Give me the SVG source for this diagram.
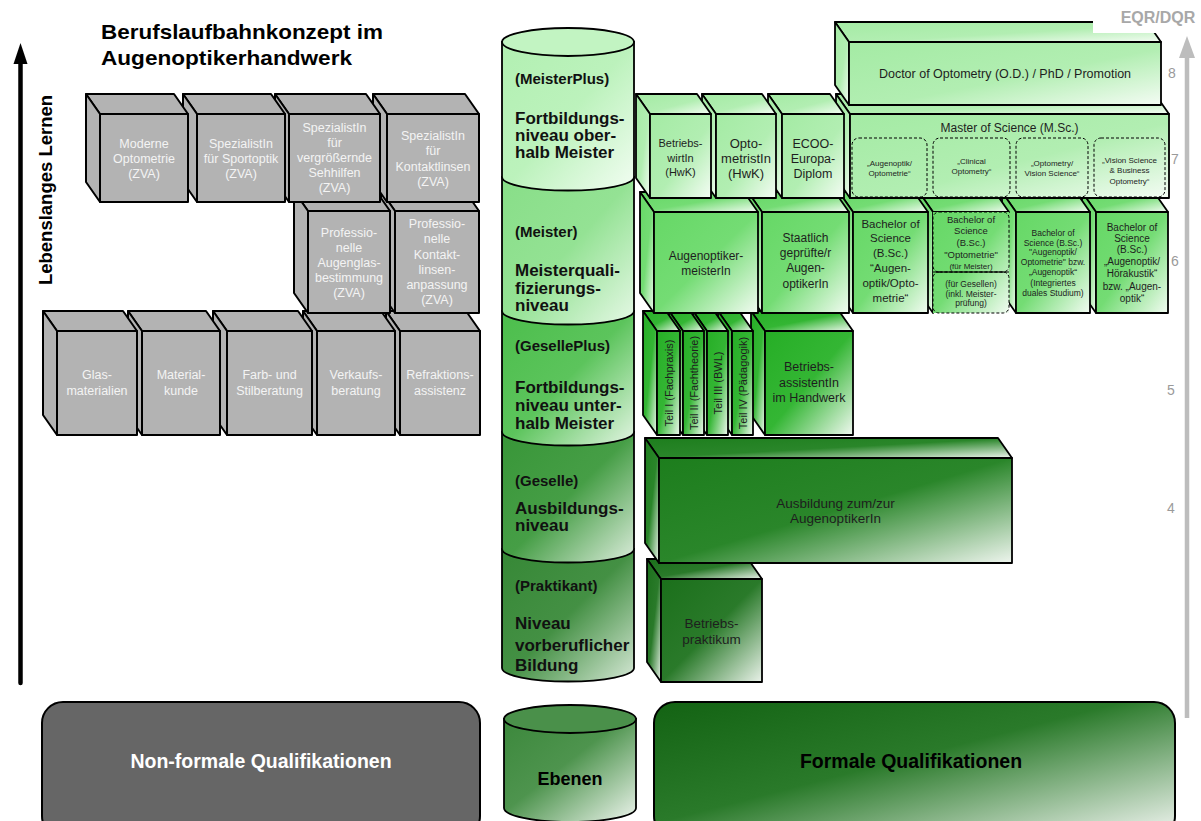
<svg xmlns="http://www.w3.org/2000/svg" width="1201" height="821" viewBox="0 0 1201 821">
  <defs>
    <linearGradient id="g8" x1="0" y1="0" x2="1" y2="1"><stop offset="0" stop-color="#a4eba4"/><stop offset="0.55" stop-color="#b2eeb2"/><stop offset="1" stop-color="#f4fcf4"/></linearGradient>
    <linearGradient id="g6" x1="0" y1="0" x2="1" y2="1"><stop offset="0" stop-color="#66d866"/><stop offset="0.5" stop-color="#74dc74"/><stop offset="1" stop-color="#f2fbf2"/></linearGradient>
    <linearGradient id="g5" x1="0" y1="0" x2="1" y2="1"><stop offset="0" stop-color="#26ae26"/><stop offset="0.5" stop-color="#34b634"/><stop offset="1" stop-color="#f0f8f0"/></linearGradient>
    <linearGradient id="g4" x1="0" y1="0" x2="1" y2="1"><stop offset="0" stop-color="#1d7e1d"/><stop offset="0.5" stop-color="#2a862a"/><stop offset="1" stop-color="#eef5ee"/></linearGradient>
    <linearGradient id="g3" x1="0" y1="0" x2="1" y2="1"><stop offset="0" stop-color="#1b701b"/><stop offset="0.5" stop-color="#2a7a2a"/><stop offset="1" stop-color="#eaf2ea"/></linearGradient>
    <linearGradient id="c7" x1="0" y1="0" x2="1" y2="1"><stop offset="0" stop-color="#b2f0b2"/><stop offset="0.5" stop-color="#bcf2bc"/><stop offset="1" stop-color="#f2fdf2"/></linearGradient>
    <linearGradient id="c6" x1="0" y1="0" x2="1" y2="1"><stop offset="0" stop-color="#88de88"/><stop offset="0.5" stop-color="#94e294"/><stop offset="1" stop-color="#e6f8e6"/></linearGradient>
    <linearGradient id="c5" x1="0" y1="0" x2="1" y2="1"><stop offset="0" stop-color="#4cbe4c"/><stop offset="0.5" stop-color="#5cc45c"/><stop offset="1" stop-color="#e4f5e4"/></linearGradient>
    <linearGradient id="c4" x1="0" y1="0" x2="1" y2="1"><stop offset="0" stop-color="#389638"/><stop offset="0.5" stop-color="#469e46"/><stop offset="1" stop-color="#dcecdc"/></linearGradient>
    <linearGradient id="c3" x1="0" y1="0" x2="1" y2="1"><stop offset="0" stop-color="#368836"/><stop offset="0.5" stop-color="#449044"/><stop offset="1" stop-color="#d6e8d6"/></linearGradient>
    <linearGradient id="fq" x1="0" y1="0" x2="1" y2="1"><stop offset="0" stop-color="#136313"/><stop offset="0.45" stop-color="#2a7a2a"/><stop offset="1" stop-color="#f4f7f4"/></linearGradient>
    <linearGradient id="eb" x1="0" y1="0" x2="1" y2="1"><stop offset="0" stop-color="#3c883c"/><stop offset="0.45" stop-color="#4e944e"/><stop offset="1" stop-color="#eef5ee"/></linearGradient>
    <style>
      .f { font-family: "Liberation Sans", Arial, Helvetica, sans-serif; }
      .gray { fill: #b3b3b3; stroke: #000; stroke-width: 2; stroke-linejoin: round; }
      .gt { font-size: 12.5px; fill: #f4f4f4; text-anchor: middle; }
      .bx { stroke: #000; stroke-width: 1.8; stroke-linejoin: round; }
      .t8 { fill: url(#g8); }
      .t6 { fill: url(#g6); }
      .t5 { fill: url(#g5); }
      .t4 { fill: url(#g4); }
      .t3 { fill: url(#g3); }
      .lbl { text-anchor: middle; fill: #1e1e1e; }
      .cyl { stroke: #000; stroke-width: 1.8; }
      .cyt { font-weight: bold; font-size: 17px; fill: #111; }
      .cyp { font-weight: bold; font-size: 15px; fill: #111; }
      .dash { fill: none; stroke: #000; stroke-width: 1; stroke-dasharray: 3 2; }
      .num { font-size: 14px; fill: #9a9a9a; text-anchor: middle; }
    </style>
  </defs>

  <rect width="1201" height="821" fill="#fff"/>

  <!-- title -->
  <g id="title" class="f" font-weight="bold" font-size="21px" fill="#000">
    <text x="101" y="39" textLength="282" lengthAdjust="spacingAndGlyphs">Berufslaufbahnkonzept im</text>
    <text x="101" y="65" textLength="251" lengthAdjust="spacingAndGlyphs">Augenoptikerhandwerk</text>
  </g>

  <!-- axes -->
  <g id="connectors">
    <line x1="20.5" y1="60" x2="20.5" y2="683" stroke="#000" stroke-width="4.5" stroke-linecap="round"/>
    <polygon points="20.5,43 13.5,64 27.5,64" fill="#000"/>
    <line x1="1187" y1="56" x2="1187" y2="718" stroke="#bdbdbd" stroke-width="4.5"/>
    <polygon points="1187,36 1179,58 1195,58" fill="#bdbdbd"/>
  </g>
  <text id="axis-left" class="f" font-weight="bold" font-size="18.5px" text-anchor="middle" transform="translate(45,190) rotate(-90)" y="7">Lebenslanges Lernen</text>

  <!-- non-formal qualifications (grey) -->
  <g id="nonformal" class="f">
    <!-- row 3 -->
    <g id="refraktion"><polygon class="gray" points="400,331 386,311 466,311 480,331"/><polygon class="gray" points="400,331 386,311 386,415 400,435"/><rect class="gray" x="400" y="331" width="80" height="104"/>
      <text class="gt" x="440" y="379">Refraktions-</text><text class="gt" x="440" y="395">assistenz</text></g>
    <g id="verkauf"><polygon class="gray" points="317,331 303,311 381,311 395,331"/><polygon class="gray" points="317,331 303,311 303,415 317,435"/><rect class="gray" x="317" y="331" width="78" height="104"/>
      <text class="gt" x="356" y="379">Verkaufs-</text><text class="gt" x="356" y="395">beratung</text></g>
    <g id="farb"><polygon class="gray" points="227,331 213,311 298,311 312,331"/><polygon class="gray" points="227,331 213,311 213,415 227,435"/><rect class="gray" x="227" y="331" width="85" height="104"/>
      <text class="gt" x="269.5" y="379">Farb- und</text><text class="gt" x="269.5" y="395">Stilberatung</text></g>
    <g id="material"><polygon class="gray" points="142,331 128,311 206,311 220,331"/><polygon class="gray" points="142,331 128,311 128,415 142,435"/><rect class="gray" x="142" y="331" width="78" height="104"/>
      <text class="gt" x="181" y="379">Material-</text><text class="gt" x="181" y="395">kunde</text></g>
    <g id="glas"><polygon class="gray" points="57,331 43,311 123,311 137,331"/><polygon class="gray" points="57,331 43,311 43,415 57,435"/><rect class="gray" x="57" y="331" width="80" height="104"/>
      <text class="gt" x="97" y="379">Glas-</text><text class="gt" x="97" y="395">materialien</text></g>
    <!-- row 2 -->
    <g id="kontaktlinsenanpassung"><polygon class="gray" points="395,211 381,191 465,191 479,211"/><polygon class="gray" points="395,211 381,191 381,293 395,313"/><rect class="gray" x="395" y="211" width="84" height="102"/>
      <text class="gt" x="437" y="228">Professio-</text><text class="gt" x="437" y="243">nelle</text><text class="gt" x="437" y="258.5">Kontakt-</text><text class="gt" x="437" y="274">linsen-</text><text class="gt" x="437" y="289">anpassung</text><text class="gt" x="437" y="304">(ZVA)</text></g>
    <g id="augenglas"><polygon class="gray" points="308,211 294,191 376,191 390,211"/><polygon class="gray" points="308,211 294,191 294,293 308,313"/><rect class="gray" x="308" y="211" width="82" height="102"/>
      <text class="gt" x="349" y="237">Professio-</text><text class="gt" x="349" y="252">nelle</text><text class="gt" x="349" y="267">Augenglas-</text><text class="gt" x="349" y="282">bestimmung</text><text class="gt" x="349" y="297">(ZVA)</text></g>
    <!-- row 1 -->
    <g id="kontaktlinsen"><polygon class="gray" points="387,114 373,94 465,94 479,114"/><polygon class="gray" points="387,114 373,94 373,182 387,202"/><rect class="gray" x="387" y="114" width="92" height="88"/>
      <text class="gt" x="433" y="139.5">SpezialistIn</text><text class="gt" x="433" y="155">für</text><text class="gt" x="433" y="170.5">Kontaktlinsen</text><text class="gt" x="433" y="186">(ZVA)</text></g>
    <g id="sehhilfen"><polygon class="gray" points="289,114 275,94 366,94 380,114"/><polygon class="gray" points="289,114 275,94 275,182 289,202"/><rect class="gray" x="289" y="114" width="91" height="88"/>
      <text class="gt" x="334.5" y="132">SpezialistIn</text><text class="gt" x="334.5" y="147">für</text><text class="gt" x="334.5" y="162">vergrößernde</text><text class="gt" x="334.5" y="177">Sehhilfen</text><text class="gt" x="334.5" y="192">(ZVA)</text></g>
    <g id="sportoptik"><polygon class="gray" points="197,114 183,94 271,94 285,114"/><polygon class="gray" points="197,114 183,94 183,182 197,202"/><rect class="gray" x="197" y="114" width="88" height="88"/>
      <text class="gt" x="241" y="147.5">SpezialistIn</text><text class="gt" x="241" y="162.5">für Sportoptik</text><text class="gt" x="241" y="177.5">(ZVA)</text></g>
    <g id="optometrie"><polygon class="gray" points="100,114 86,94 174,94 188,114"/><polygon class="gray" points="100,114 86,94 86,182 100,202"/><rect class="gray" x="100" y="114" width="88" height="88"/>
      <text class="gt" x="144" y="147.5">Moderne</text><text class="gt" x="144" y="162.5">Optometrie</text><text class="gt" x="144" y="177.5">(ZVA)</text></g>
  </g>

  <!-- levels column -->
  <g id="levels" class="f">
    <g id="lvl-praktikant">
      <path class="cyl" fill="url(#c3)" d="M502,549 V668 A66,13.5 0 0 0 634,668 V549 Z"/>
      <text class="cyp" x="515" y="591">(Praktikant)</text>
      <text class="cyt" x="515" y="629">Niveau</text><text class="cyt" x="515" y="651">vorberuflicher</text><text class="cyt" x="515" y="671">Bildung</text>
    </g>
    <g id="lvl-geselle">
      <path class="cyl" fill="url(#c4)" d="M502,432 V549 A66,13.5 0 0 0 634,549 V432 Z"/>
      <text class="cyp" x="515" y="486">(Geselle)</text>
      <text class="cyt" x="515" y="514">Ausbildungs-</text><text class="cyt" x="515" y="531">niveau</text>
    </g>
    <g id="lvl-geselleplus">
      <path class="cyl" fill="url(#c5)" d="M502,311 V432 A66,13.5 0 0 0 634,432 V311 Z"/>
      <text class="cyp" x="515" y="351">(GesellePlus)</text>
      <text class="cyt" x="515" y="393">Fortbildungs-</text><text class="cyt" x="515" y="411">niveau unter-</text><text class="cyt" x="515" y="429">halb Meister</text>
    </g>
    <g id="lvl-meister">
      <path class="cyl" fill="url(#c6)" d="M502,177 V311 A66,13.5 0 0 0 634,311 V177 Z"/>
      <text class="cyp" x="515" y="237">(Meister)</text>
      <text class="cyt" x="515" y="276">Meisterquali-</text><text class="cyt" x="515" y="294">fizierungs-</text><text class="cyt" x="515" y="311">niveau</text>
    </g>
    <g id="lvl-meisterplus">
      <path class="cyl" fill="url(#c7)" d="M502,42 V177 A66,13.5 0 0 0 634,177 V42 Z"/>
      <ellipse class="cyl" cx="568" cy="42" rx="66" ry="14" fill="#c2f4c2"/>
      <text class="cyp" x="515" y="84">(MeisterPlus)</text>
      <text class="cyt" x="515" y="124">Fortbildungs-</text><text class="cyt" x="515" y="141">niveau ober-</text><text class="cyt" x="515" y="158">halb Meister</text>
    </g>
  </g>

  <!-- formal qualifications (green) -->
  <g id="formal" class="f">
    <!-- level 3 -->
    <g id="praktikum"><polygon class="bx t3" points="661,579 647,559 748,559 762,579"/><polygon class="bx t3" points="661,579 647,559 647,662 661,682"/><rect class="bx t3" x="661" y="579" width="101" height="103"/>
      <text class="lbl" font-size="13.5px" x="711.5" y="628">Betriebs-</text><text class="lbl" font-size="13.5px" x="711.5" y="644">praktikum</text></g>
    <!-- level 4 -->
    <g id="ausbildung"><polygon class="bx t4" points="659,458 645,438 998,438 1012,458"/><polygon class="bx t4" points="659,458 645,438 645,543 659,563"/><rect class="bx t4" x="659" y="458" width="353" height="105"/>
      <text class="lbl" font-size="13.5px" fill="#333" x="835.5" y="508">Ausbildung zum/zur</text><text class="lbl" font-size="13.5px" x="835.5" y="523">AugenoptikerIn</text></g>
    <!-- level 5 -->
    <g id="betriebsassistent"><polygon class="bx t5" points="765,331 751,311 839,311 853,331"/><polygon class="bx t5" points="765,331 751,311 751,415 765,435"/><rect class="bx t5" x="765" y="331" width="88" height="104"/>
      <text class="lbl" font-size="12.5px" x="809" y="371">Betriebs-</text><text class="lbl" font-size="12.5px" x="809" y="387">assistentIn</text><text class="lbl" font-size="12.5px" x="809" y="402">im Handwerk</text></g>
    <g id="teil4"><polygon class="bx t5" points="732,331 718,311 739,311 753,331"/><polygon class="bx t5" points="732,331 718,311 718,415 732,435"/><rect class="bx t5" x="732" y="331" width="21" height="104"/>
      <text class="lbl" font-size="11px" transform="translate(742.5,383) rotate(-90)" y="4">Teil IV (Pädagogik)</text></g>
    <g id="teil3"><polygon class="bx t5" points="707,331 693,311 714,311 728,331"/><polygon class="bx t5" points="707,331 693,311 693,415 707,435"/><rect class="bx t5" x="707" y="331" width="21" height="104"/>
      <text class="lbl" font-size="11px" transform="translate(717.5,383) rotate(-90)" y="4">Teil III (BWL)</text></g>
    <g id="teil2"><polygon class="bx t5" points="683,331 669,311 690,311 704,331"/><polygon class="bx t5" points="683,331 669,311 669,415 683,435"/><rect class="bx t5" x="683" y="331" width="21" height="104"/>
      <text class="lbl" font-size="11px" transform="translate(693.5,383) rotate(-90)" y="4">Teil II (Fachtheorie)</text></g>
    <g id="teil1"><polygon class="bx t5" points="657,331 643,311 666,311 680,331"/><polygon class="bx t5" points="657,331 643,311 643,415 657,435"/><rect class="bx t5" x="657" y="331" width="23" height="104"/>
      <text class="lbl" font-size="11px" transform="translate(668.5,383) rotate(-90)" y="4">Teil I (Fachpraxis)</text></g>
    <!-- level 6 -->
    <g id="bsc-hoerakustik"><polygon class="bx t6" points="1096,212 1082,192 1154,192 1168,212"/><polygon class="bx t6" points="1096,212 1082,192 1082,293 1096,313"/><rect class="bx t6" x="1096" y="212" width="72" height="101"/>
      <g class="lbl" font-size="10px"><text x="1132" y="230.5">Bachelor of</text><text x="1132" y="241.5">Science</text><text x="1132" y="253">(B.Sc.)</text><text x="1132" y="265">„Augenoptik/</text><text x="1132" y="277">Hörakustik“</text><text x="1132" y="289.5">bzw. „Augen-</text><text x="1132" y="301.5">optik“</text></g></g>
    <g id="bsc-dual"><polygon class="bx t6" points="1016,212 1002,192 1076,192 1090,212"/><polygon class="bx t6" points="1016,212 1002,192 1002,293 1016,313"/><rect class="bx t6" x="1016" y="212" width="74" height="101"/>
      <g class="lbl" font-size="8.5px"><text x="1053" y="236">Bachelor of</text><text x="1053" y="245.5">Science (B.Sc.)</text><text x="1053" y="255">"Augenoptik/</text><text x="1053" y="265">Optometrie" bzw.</text><text x="1053" y="275">„Augenoptik“</text><text x="1053" y="286">(Integriertes</text><text x="1053" y="296">duales Studium)</text></g></g>
    <g id="bsc-optometrie"><polygon class="bx t6" points="933,212 919,192 995,192 1009,212"/><polygon class="bx t6" points="933,212 919,192 919,293 933,313"/><rect class="t6" x="933" y="212" width="76" height="101"/>
      <rect class="dash" x="933" y="212" width="76" height="60" rx="6" stroke-dasharray="2 1.5"/><rect class="dash" x="933" y="272" width="76" height="41" rx="6" stroke-dasharray="2 1.5"/>
      <line x1="933" y1="272" x2="1009" y2="272" stroke="#000" stroke-width="1.2"/>
      <g class="lbl" font-size="9.5px"><text x="971" y="222.5">Bachelor of</text><text x="971" y="233.5">Science</text><text x="971" y="245.5">(B.Sc.)</text><text x="971" y="257.5">"Optometrie"</text></g>
      <g class="lbl" font-size="8px"><text x="971" y="268.5">(für Meister)</text></g>
      <g class="lbl" font-size="8.5px"><text x="971" y="287">(für Gesellen)</text><text x="971" y="297">(inkl. Meister-</text><text x="971" y="306">prüfung)</text></g></g>
    <g id="bsc-augenoptik"><polygon class="bx t6" points="853,212 839,192 914,192 928,212"/><polygon class="bx t6" points="853,212 839,192 839,293 853,313"/><rect class="bx t6" x="853" y="212" width="75" height="101"/>
      <g class="lbl" font-size="11.5px"><text x="890.5" y="228">Bachelor of</text><text x="890.5" y="242">Science</text><text x="890.5" y="257">(B.Sc.)</text><text x="890.5" y="272">“Augen-</text><text x="890.5" y="287">optik/Opto-</text><text x="890.5" y="302">metrie“</text></g></g>
    <g id="staatlich"><polygon class="bx t6" points="762,212 748,192 835,192 849,212"/><polygon class="bx t6" points="762,212 748,192 748,293 762,313"/><rect class="bx t6" x="762" y="212" width="87" height="101"/>
      <g class="lbl" font-size="12px"><text x="805.5" y="242">Staatlich</text><text x="805.5" y="257">geprüfte/r</text><text x="805.5" y="272">Augen-</text><text x="805.5" y="288">optikerIn</text></g></g>
    <g id="meisterin"><polygon class="bx t6" points="654,212 640,192 744,192 758,212"/><polygon class="bx t6" points="654,212 640,192 640,293 654,313"/><rect class="bx t6" x="654" y="212" width="104" height="101"/>
      <g class="lbl" font-size="12px"><text x="706" y="259.5">Augenoptiker-</text><text x="706" y="274.5">meisterIn</text></g></g>
    <!-- level 7 -->
    <g id="master"><polygon class="bx t8" points="850,114 836,94 1155,94 1169,114"/><polygon class="bx t8" points="850,114 836,94 836,178 850,198"/><rect class="bx t8" x="850" y="114" width="319" height="84"/>
      <text class="lbl" font-size="12px" x="1009.5" y="132">Master of Science (M.Sc.)</text>
      <rect class="dash" x="852" y="138" width="75" height="59" rx="7"/>
      <rect class="dash" x="933" y="138" width="77" height="59" rx="7"/>
      <rect class="dash" x="1016" y="138" width="72" height="59" rx="7"/>
      <rect class="dash" x="1094" y="138" width="71" height="59" rx="7"/>
      <g class="lbl" font-size="8px">
        <text x="889.5" y="166">„Augenoptik/</text><text x="889.5" y="176">Optometrie“</text>
        <text x="971.5" y="164">„Clinical</text><text x="971.5" y="174">Optometry“</text>
        <text x="1052" y="166">„Optometry/</text><text x="1052" y="176">Vision Science“</text>
        <text x="1129.5" y="163">„Vision Science</text><text x="1129.5" y="173">&amp; Business</text><text x="1129.5" y="184">Optometry“</text>
      </g></g>
    <g id="ecoo"><polygon class="bx t8" points="782,114 768,94 830,94 844,114"/><polygon class="bx t8" points="782,114 768,94 768,178 782,198"/><rect class="bx t8" x="782" y="114" width="62" height="84"/>
      <g class="lbl" font-size="12.5px"><text x="813" y="147.5">ECOO-</text><text x="813" y="162.5">Europa-</text><text x="813" y="177.5">Diplom</text></g></g>
    <g id="optometristin"><polygon class="bx t8" points="716,114 702,94 762,94 776,114"/><polygon class="bx t8" points="716,114 702,94 702,178 716,198"/><rect class="bx t8" x="716" y="114" width="60" height="84"/>
      <g class="lbl" font-size="13px"><text x="746" y="147.5">Opto-</text><text x="746" y="162.5">metristIn</text><text x="746" y="177.5">(HwK)</text></g></g>
    <g id="betriebswirtin"><polygon class="bx t8" points="650,114 636,94 697,94 711,114"/><polygon class="bx t8" points="650,114 636,94 636,178 650,198"/><rect class="bx t8" x="650" y="114" width="61" height="84"/>
      <g class="lbl" font-size="11px"><text x="680.5" y="147">Betriebs-</text><text x="680.5" y="162">wirtIn</text><text x="680.5" y="176">(HwK)</text></g></g>
    <!-- level 8 -->
    <g id="doctor"><polygon class="bx t8" points="849,42 835,22 1147,22 1161,42"/><polygon class="bx t8" points="849,42 835,22 835,85 849,105"/><rect class="bx t8" x="849" y="42" width="312" height="63"/>
      <text class="lbl" font-size="12.5px" x="1005" y="77.5">Doctor of Optometry (O.D.) / PhD / Promotion</text></g>
  </g>

  <!-- EQR/DQR scale -->
  <g id="scale" class="f">
    <rect x="1093" y="0" width="108" height="33" fill="#fff"/>
    <text x="1158" y="23" font-size="16px" font-weight="bold" fill="#a8a8a8" text-anchor="middle">EQR/DQR</text>
    <text class="num" x="1172" y="78">8</text>
    <text class="num" x="1175" y="164">7</text>
    <text class="num" x="1175" y="266">6</text>
    <text class="num" x="1171" y="395">5</text>
    <text class="num" x="1171" y="513">4</text>
  </g>

  <!-- legend -->
  <g id="legend-nonformal" class="f">
    <rect x="42" y="702" width="438" height="135" rx="21" fill="#666" stroke="#000" stroke-width="2"/>
    <text x="261" y="768" font-size="19.5px" font-weight="bold" fill="#fff" text-anchor="middle">Non-formale Qualifikationen</text>
  </g>
  <g id="legend-ebenen" class="f">
    <path class="cyl" fill="url(#eb)" d="M504,719 V808 A66,14 0 0 0 636,808 V719 Z"/>
    <ellipse class="cyl" cx="570" cy="719" rx="66" ry="14" fill="#4a904a"/>
    <text x="570" y="785" font-size="18px" font-weight="bold" fill="#000" text-anchor="middle">Ebenen</text>
  </g>
  <g id="legend-formal" class="f">
    <rect x="654" y="702" width="521" height="135" rx="21" fill="url(#fq)" stroke="#000" stroke-width="2"/>
    <text x="911" y="768" font-size="19.5px" font-weight="bold" fill="#000" text-anchor="middle">Formale Qualifikationen</text>
  </g>
</svg>
